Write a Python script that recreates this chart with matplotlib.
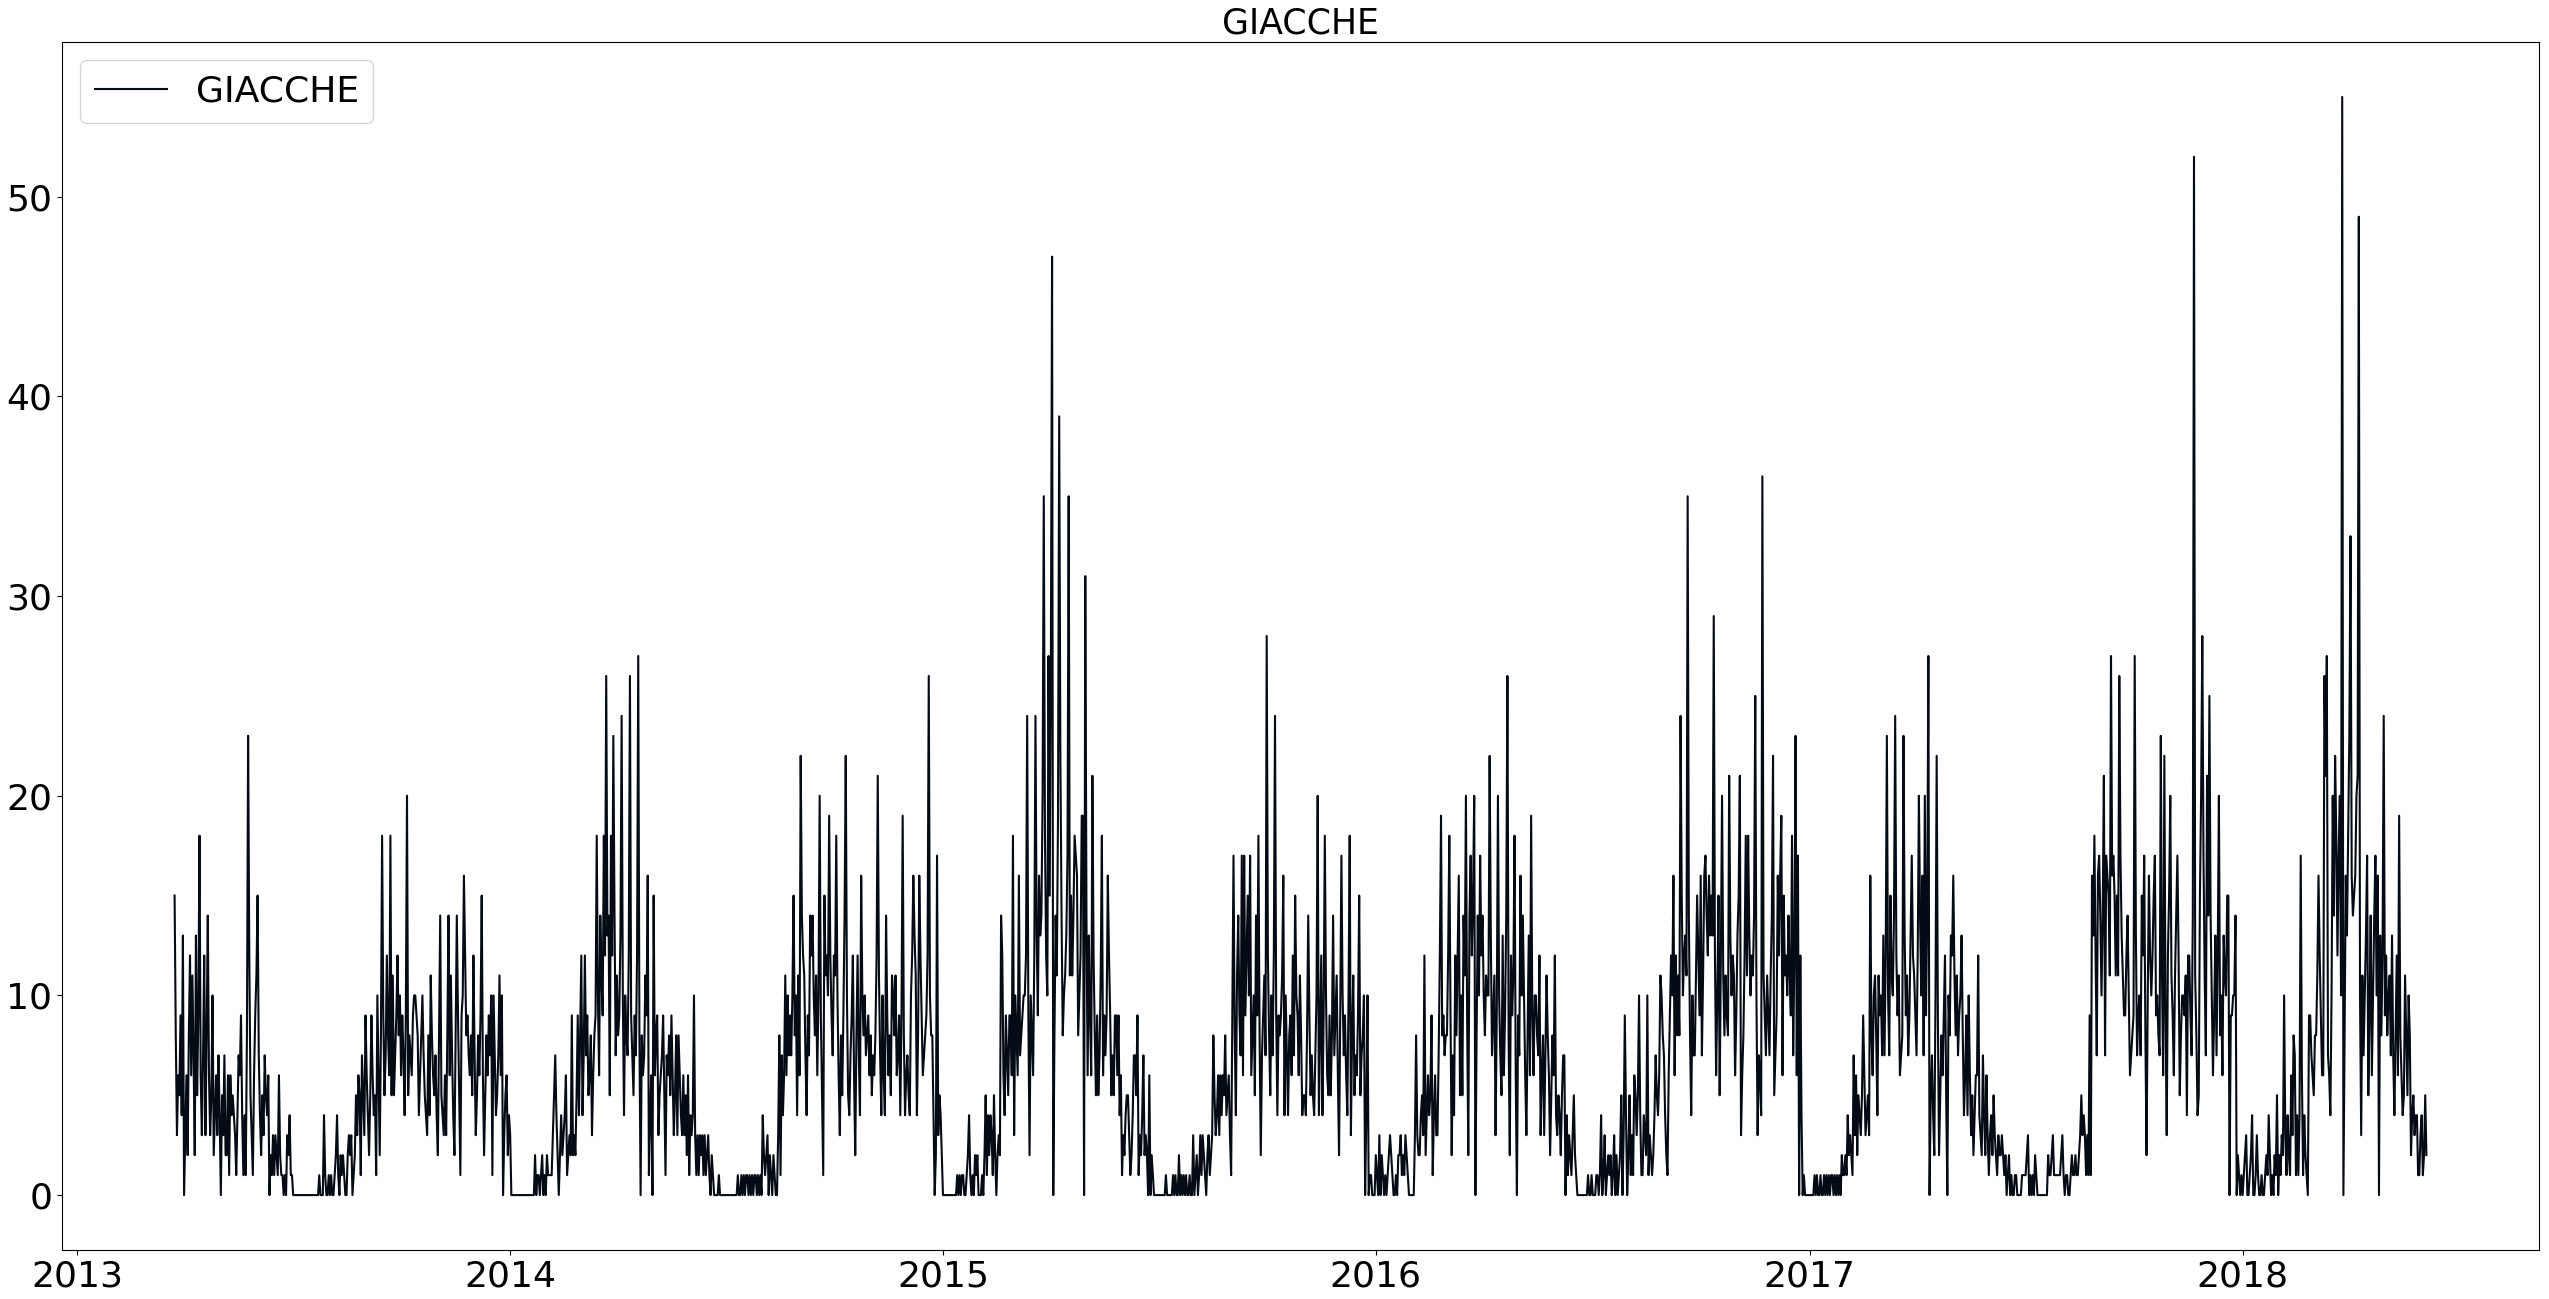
import numpy as np
import pandas as pd
import matplotlib
matplotlib.use("Agg")
import matplotlib.pyplot as plt

series_name = "GIACCHE"
start_date = "2013-03-24"

sales_p01 = [15,8,3,6,5,9,4,13,0,3, 6,2,8,12,6,11,7,2,13,5, 9,18,6,3,7,12,3,8,14,6,
             3,5,10,2,4,6,3,7,4,0, 5,3,7,2,2,6,1,6,4,5, 4,3,1,4,7,6,9,4,1,4,
             1,8,23,12,5,3,1,6,9,11, 15,7,4,2,5,3,7,5,4,6, 0,2,1,3,1,3,2,1,6,2,
             1,1,0,1,0,3,2,4,1,1,
             0,0,0,0,0,0,0,0,0,0,0,0,0,0,0,0,0,0,0,0,0,
             0,1,0,0,0,4,1,0,0,1, 0,1,0,0,1,2,4,1,0,2, 1,2,1,0,0,2,3,2,3,0, 1,2,5]
sales_p02 = [3,6,5,1,7,5,3,9,6,4, 2,5,9,6,4,5,1,10,6,2, 8,18,9,5,7,12,8,6,18,5,
             11,5,7,9,12,8,10,6,9,7, 4,9,20,5,8,7,6,9,10,10, 9,8,4,6,8,10,7,5,4,3,
             8,4,11,8,6,5,7,4,2,8, 14,5,4,3,6,3,8,14,6,11, 7,4,2,8,14,9,5,1,9,10,
             16,12,8,9,7,6,8,5,12,7, 3,5,8,6,9,15,6,2,5,8, 6,9,7,10,1,10,7,4,5,7,
             11,6,10,0,3,5,6,2,4,3, 0,0,0,0,0,0,0,0,0,0, 0,0,0,0,0,0,0,0,0,0,
             2,0,1,1,0,1,2,0,1,0]
sales_p03 = [2,1,1,1,1,3,5,7,4,2, 0,2,4,2,3,4,6,1,2,3, 2,9,2,3,2,5,9,4,8,12,
             4,7,12,7,9,5,6,8,3,6, 8,9,18,10,6,14,11,9,18,12, 26,13,14,5,18,12,23,14,7,11,
             8,9,13,24,10,4,10,8,7,12, 26,9,7,5,9,7,12,27,8,0, 8,6,7,11,9,16,1,4,6,0,
             15,6,8,9,3,5,6,7,9,5, 1,7,6,8,5,9,6,3,5,8, 3,8,6,4,3,6,3,5,2,6,
             1,4,3,4,10,3,1,3,1,3, 2,3,1,3,1,2,3,1,0,2, 1,0,0,0,0,1,0,0,0,0,
             0,0,0,0,0,0,0,0,0,0]
sales_p04 = [0,1,0,0,1,0,1,0,1,1, 0,1,0,1,0,1,1,0,1,0, 1,0,4,2,1,2,3,0,2,1,
             0,2,1,0,0,3,8,1,7,4, 6,11,6,10,7,9,7,10,15,8, 10,4,11,6,22,14,12,11,7,4,
             9,7,14,12,14,10,8,11,6,10, 20,9,5,1,15,11,12,10,19,12, 9,7,12,11,18,10,6,3,8,5,
             9,14,22,10,5,4,7,9,12,6, 2,8,12,7,4,16,10,8,10,7, 8,9,6,8,5,7,6,8,12,21,
             11,7,4,10,6,4,14,9,6,8, 5,11,10,8,11,6,7,9,4,9, 19,8,4,6,7,5,4,10,12,16,
             13,11,4,8,16,12,9,6,7,8]
sales_p05 = [9,12,26,10,8,8,4,0,2,17, 3,5,4,2,0,0,0,0,0,0, 0,0,0,0,0,0,1,0,1,0,
             1,1,0,0,1,2,4,1,0,1, 0,2,1,2,0,0,0,1,0,2, 5,1,4,2,4,3,1,5,2,0,
             2,3,2,14,12,6,4,9,7,5, 9,9,6,18,3,10,8,6,16,7, 8,9,10,10,12,24,9,2,10,8,
             6,12,24,13,9,16,13,14,20,35, 18,12,10,27,15,27,47,0,8,14, 11,19,39,22,14,8,10,11,13,17,
             35,11,15,11,14,18,17,16,8,10, 12,19,19,0,31,14,6,13,9,6, 21,12,8,5,9,5,7,11,18,6,
             9,7,9,16,12,9,5,7,5,9]
sales_p06 = [9,6,9,4,6,1,3,2,4,5, 5,3,1,2,4,7,7,5,9,1, 3,2,4,7,2,3,2,0,6,0,
             2,1,0,0,0,0,0,0,0,0, 0,0,1,0,0,0,0,0,1,0, 1,0,0,2,0,1,0,1,0,1,
             0,0,1,0,0,3,0,1,2,0, 1,3,1,3,2,1,0,2,3,1, 2,3,8,5,3,4,6,3,6,4,
             6,5,8,4,5,6,3,1,9,17, 8,4,11,14,9,7,17,6,17,9, 12,15,10,17,6,8,10,5,14,9,
             18,8,2,7,9,11,7,28,12,8, 5,10,7,12,24,9,4,9,8,9, 11,16,4,10,7,4,8,9,6,12,
             7,15,10,9,6,11,8,4,5,5]
sales_p07 = [4,8,14,9,5,7,5,4,7,10, 20,4,8,12,4,9,18,10,6,5, 9,5,8,14,7,9,11,6,2,9,
             17,10,7,9,6,4,10,18,3,8, 11,5,7,6,9,15,5,7,8,10, 0,4,10,0,1,1,0,0,0,2,
             1,0,3,0,2,1,0,1,0,1, 2,3,2,1,0,0,1,0,2,2, 3,1,2,1,3,2,1,0,0,0,
             0,0,3,8,3,2,2,4,5,3, 12,2,4,6,4,5,9,1,4,6, 3,3,7,12,19,8,9,7,8,8,
             12,18,9,2,7,4,12,8,12,16, 5,10,5,14,11,20,9,2,14,17, 12,15,20,0,8,14,10,17,12,14,
             10,8,11,10,10,22,13,7,9,11]
sales_p08 = [3,9,20,10,7,5,13,6,9,14, 26,8,2,12,9,11,18,6,0,9, 7,16,10,14,10,6,3,8,13,6,
             19,9,6,10,10,8,7,12,3,6, 8,3,7,11,8,6,2,5,8,6, 12,4,3,5,4,2,5,7,7,0,
             4,1,3,2,1,3,5,2,1,0, 0,0,0,0,0,0,0,0,1,0, 0,1,0,0,0,1,1,0,1,4,
             0,1,3,0,1,2,1,2,0,1, 3,0,2,0,1,2,5,0,3,9, 4,0,2,5,1,3,1,6,5,3,
             5,10,4,1,1,4,3,2,10,1, 3,2,1,2,4,7,5,4,6,11, 10,8,7,4,2,1,6,9,12,10,
             16,6,12,8,11,8,24,15,10,12]
sales_p09 = [13,11,35,14,8,4,10,7,7,11, 15,12,9,16,7,11,16,17,14,12, 16,13,15,13,29,12,6,10,15,5,
             12,20,11,8,11,9,8,21,13,10, 12,11,6,9,13,15,21,3,6,8, 12,18,11,18,13,10,12,11,14,25,
             10,3,7,6,4,36,11,9,7,11, 9,7,11,14,22,5,7,9,16,12, 16,19,6,15,11,12,10,14,11,9,
             18,7,12,23,6,17,0,12,4,0, 1,0,0,0,0,0,0,0,0,1, 0,1,0,0,1,0,0,1,0,1,
             0,1,0,1,1,0,1,0,1,0, 1,0,2,1,1,2,1,4,2,3, 2,1,7,3,6,2,5,4,3,5,
             9,6,3,4,5,3,16,8,6,10]
sales_p10 = [11,8,4,11,9,10,7,13,7,12, 23,10,7,15,11,10,14,24,12,9, 11,6,7,8,23,13,9,11,7,9,
             13,17,12,11,9,7,12,20,14,10, 16,7,20,9,14,27,0,5,7,4, 2,10,22,9,2,5,8,6,9,12,
             5,0,10,8,13,12,16,11,8,11, 7,9,10,13,8,4,6,9,4,10, 6,3,5,2,4,6,6,12,4,3,
             2,7,4,2,6,3,1,3,4,2, 5,3,2,1,3,2,2,3,2,1, 2,0,1,2,0,1,0,0,1,1,
             0,0,0,0,1,1,1,1,2,3, 0,1,0,1,0,2,1,0,0,0, 0,0,0,0,0,0,2,1,1,2,
             3,1,1,1,1,1,1,2,3,1]
sales_p11 = [0,1,1,0,0,1,2,1,1,2, 1,1,2,3,5,3,4,3,1,3, 1,9,1,16,13,18,12,7,16,17,
             14,10,14,21,7,17,16,15,11,27, 16,17,15,11,15,11,26,17,13,11, 9,9,12,14,10,6,7,8,9,27,
             13,7,9,10,7,15,12,17,8,2, 10,16,12,10,12,15,17,9,10,8, 7,23,11,6,22,9,3,12,15,20,
             11,9,6,11,14,17,12,5,8,10, 10,9,11,4,12,12,9,7,14,52, 11,8,4,5,15,20,28,17,11,7,
             21,14,25,14,10,6,9,13,7,12, 20,8,10,6,13,11,10,15,15,0, 9,9,10,10,14,0,2,1,0,1,
             0,1,2,3,0,0,1,2,4,0]
sales_p12 = [0,1,3,1,0,0,1,0,0,1, 2,1,4,2,0,1,0,2,1,5, 0,2,1,3,2,10,3,1,4,2,
             1,6,3,8,7,1,4,1,4,17, 6,1,4,2,1,0,9,9,7,6, 5,8,8,11,16,12,9,6,6,26,
             21,27,7,6,4,10,20,14,22,18, 12,17,20,10,55,0,8,16,13,18, 23,33,16,14,15,16,20,21,49,10,
             3,11,7,10,13,17,5,9,14,6, 10,14,17,10,16,0,13,8,12,24, 9,12,8,10,11,7,13,7,4,8,
             12,6,19,8,6,4,5,11,8,5, 10,8,2,4,5,3,4,4,1,1, 3,4,1,2,5,2]

values = np.concatenate([sales_p01, sales_p02, sales_p03, sales_p04, sales_p05, sales_p06,
                         sales_p07, sales_p08, sales_p09, sales_p10, sales_p11, sales_p12])
dates = pd.date_range(start_date, periods=len(values), freq="D")

W, H = 2549, 1299
fig = plt.figure(figsize=(W / 100, H / 100), dpi=100)
left, right, top, bottom = 62, 2539, 42, 1250
ax = fig.add_axes([left / W, (H - bottom) / H, (right - left) / W, (bottom - top) / H])
ax.plot(dates, values, color="#050b14", linewidth=1.5, label=series_name)
ax.set_title(series_name, fontsize=25)
ax.tick_params(axis="both", labelsize=26)
ax.legend(loc="upper left", fontsize=26)
fig.savefig("out.png", dpi=100)
